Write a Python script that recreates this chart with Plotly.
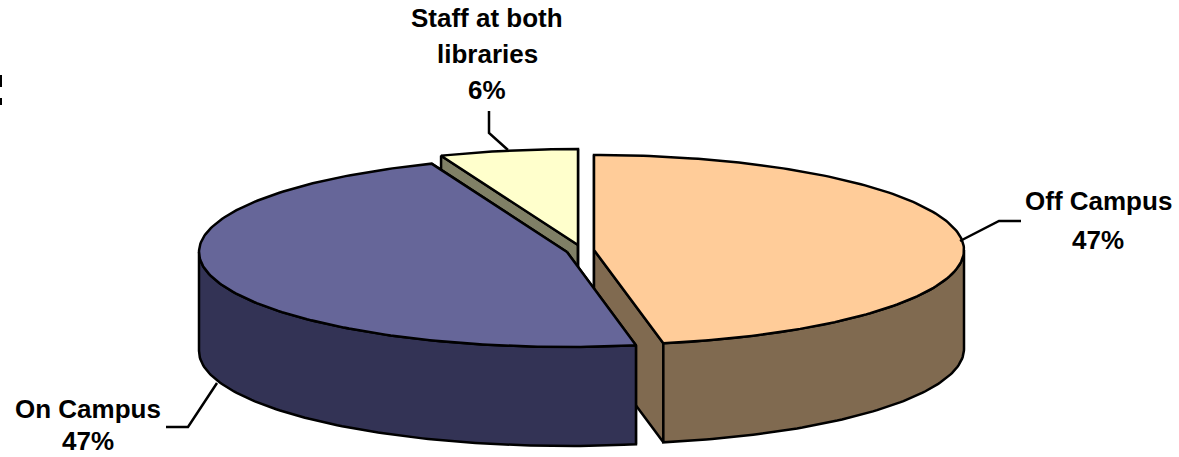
import numpy as np
import plotly.graph_objects as go

# ---- data ----
categories = ["Off Campus", "On Campus", "Staff at both libraries"]
values = [47, 47, 6]
label_lines = [["Off Campus", "47%"], ["On Campus", "47%"], ["Staff at both", "libraries", "6%"]]

# ---- styles / geometry (pixels) ----
W, H = 1179, 457
top_colors = ["#FFCC99", "#666699", "#FFFFCC"]
side_colors = ["#806A50", "#333355", "#808066"]
centers = [(594, 250), (567, 252), (578, 245)]
RX, RY, DEPTH = [370, 368, 372], [95, 95, 96], 99
LW = 2.5
draw_order = [2, 0, 1]
label_pos = [[(1098, 201), (1098, 240)], [(88, 409), (88, 441)], [(487, 18), (487, 54), (487, 90)]]
leaders = [
    [(1021, 221), (999, 221), (960, 241)],
    [(166, 427), (188, 427), (217, 383)],
    [(489, 111), (489, 133), (508, 150)],
]

fracs = np.array(values, dtype=float) / sum(values)
ends = np.cumsum(fracs) * 2 * np.pi
starts = ends - fracs * 2 * np.pi


def rim(i, a0, a1):
    t = np.linspace(a0, a1, max(2, int(abs(a1 - a0) * 60)))
    cx, cy = centers[i]
    return cx + RX[i] * np.sin(t), cy - RY[i] * np.cos(t)


def poly(x, y, fill):
    return go.Scatter(
        x=list(x) + [x[0]], y=list(y) + [y[0]], mode="lines", fill="toself",
        fillcolor=fill, line=dict(color="black", width=LW), hoverinfo="skip",
        showlegend=False,
    )


fig = go.Figure()
for i in draw_order:
    cx, cy = centers[i]
    a0, a1 = starts[i], ends[i]
    # radial cut walls
    for a in (a0, a1):
        ex, ey = rim(i, a, a)
        ex, ey = ex[0], ey[0]
        fig.add_trace(poly([cx, ex, ex, cx], [cy, ey, ey + DEPTH, cy + DEPTH], side_colors[i]))
    # outer front wall
    f0, f1 = max(a0, np.pi / 2), min(a1, 3 * np.pi / 2)
    if f1 > f0:
        rx, ry = rim(i, f0, f1)
        fig.add_trace(poly(np.r_[rx, rx[::-1]], np.r_[ry, ry[::-1] + DEPTH], side_colors[i]))
    # top face
    rx, ry = rim(i, a0, a1)
    fig.add_trace(poly(np.r_[cx, rx], np.r_[cy, ry], top_colors[i]))

for pts in leaders:
    xs, ys = zip(*pts)
    fig.add_trace(go.Scatter(x=xs, y=ys, mode="lines", line=dict(color="black", width=LW),
                             hoverinfo="skip", showlegend=False))

annotations = []
for lines, pos in zip(label_lines, label_pos):
    for text, (x, y) in zip(lines, pos):
        annotations.append(dict(
            x=x, y=y, xref="x", yref="y", text=f"<b>{text}</b>", showarrow=False,
            xanchor="center", yanchor="middle",
            font=dict(family="Liberation Sans, Arial, sans-serif", size=26, color="black"),
        ))

# clipped remnant at the left edge of the picture
shapes = [
    dict(type="rect", x0=0, x1=2, y0=75, y1=87, fillcolor="black", line_width=0),
    dict(type="rect", x0=0, x1=2, y0=98, y1=105, fillcolor="black", line_width=0),
]

fig.update_layout(
    width=W, height=H, margin=dict(l=0, r=0, t=0, b=0),
    paper_bgcolor="white", plot_bgcolor="white",
    xaxis=dict(range=[0, W], visible=False, fixedrange=True),
    yaxis=dict(range=[H, 0], visible=False, fixedrange=True),
    annotations=annotations, shapes=shapes, showlegend=False,
)
fig.write_html("out.html", config={"displayModeBar": False},
               post_script="document.body.style.margin='0';document.documentElement.style.overflow='hidden';")
